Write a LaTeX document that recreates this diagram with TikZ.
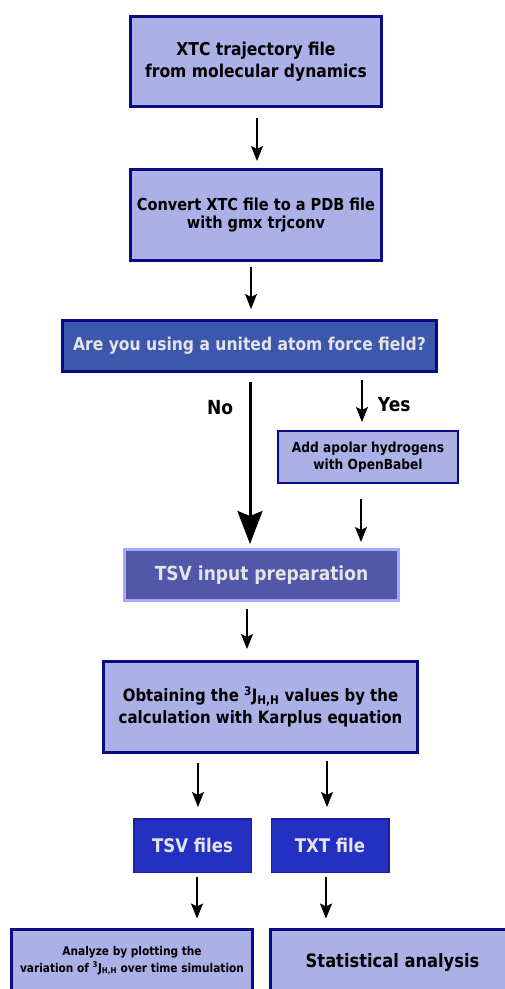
\documentclass[tikz,border=0pt]{standalone}
\usepackage{fontspec}
\setmainfont{DejaVu Sans}[FakeStretch=0.88]
\usetikzlibrary{arrows.meta}

\definecolor{boxfill}{HTML}{ABB0E6}
\definecolor{boxline}{HTML}{0A0A82}
\definecolor{askfill}{HTML}{3D57AD}
\definecolor{prepfill}{HTML}{5157A9}
\definecolor{prepline}{HTML}{A8A8F5}
\definecolor{filefill}{HTML}{2430C2}
\definecolor{fileline}{HTML}{1E1EA0}
\definecolor{lighttext}{HTML}{E4E4E8}

\tikzset{
  stepbox/.style={draw=boxline, fill=boxfill, line width=3pt, align=center, inner sep=0pt},
  arr/.style={-{Stealth[length=15pt, width=12pt, inset=3pt]}, line width=1.3pt},
  bigarr/.style={-{Stealth[length=33pt, width=25pt, inset=5pt]}, line width=3pt},
}

\begin{document}
\begin{tikzpicture}[x=1pt, y=-1pt]
    \clip (0,0) rectangle (505,989);
    \fill[white] (0,0) rectangle (505,989);

    % main column
    \node[stepbox, minimum width=251, minimum height=90,
          font=\bfseries\fontsize{17.7}{22}\selectfont] (xtc) at (256,61.5)
          {XTC trajectory file\\from molecular dynamics};
    \node[stepbox, minimum width=251, minimum height=91,
          font=\bfseries\fontsize{16.5}{18}\selectfont] (conv) at (256,215)
          {Convert XTC file to a PDB file\\with gmx trjconv};
    \node[stepbox, fill=askfill, text=lighttext, minimum width=374, minimum height=51,
          font=\bfseries\fontsize{17.7}{20}\selectfont] (ask) at (249.5,346)
          {Are you using a united atom force field?};
    \node[stepbox, line width=2pt, minimum width=180, minimum height=52,
          font=\bfseries\fontsize{13.9}{17}\selectfont] (addh) at (368,457)
          {Add apolar hydrogens\\with OpenBabel};
    \node[stepbox, draw=prepline, fill=prepfill, text=lighttext, minimum width=274, minimum height=51,
          font=\bfseries\fontsize{19.4}{22}\selectfont] (prep) at (261.5,575)
          {TSV input preparation};
    \node[stepbox, minimum width=314, minimum height=91,
          font=\bfseries\fontsize{17}{22}\selectfont] (karp) at (260.5,707)
          {Obtaining the \textsuperscript{3}J\textsubscript{H,H} values by the\\calculation with Karplus equation};

    % outputs
    \node[stepbox, draw=fileline, fill=filefill, text=lighttext, line width=1.5pt,
          minimum width=117.5, minimum height=53.5,
          font=\bfseries\fontsize{18.8}{22}\selectfont] (tsvf) at (192.5,845.5) {TSV files};
    \node[stepbox, draw=fileline, fill=filefill, text=lighttext, line width=1.5pt,
          minimum width=117.5, minimum height=53.5,
          font=\bfseries\fontsize{18.8}{22}\selectfont] (txtf) at (330,845.5) {TXT file};
    \node[stepbox, minimum width=241, minimum height=63,
          font=\bfseries\fontsize{12}{17}\selectfont] (plot) at (132,960.5)
          {Analyze by plotting the\\variation of \textsuperscript{3}J\textsubscript{H,H} over time simulation};
    \node[stepbox, minimum width=244, minimum height=67,
          font=\bfseries\fontsize{18.5}{22}\selectfont] (stat) at (392.5,962.5)
          {Statistical analysis};

    % connectors
    \draw[arr, shorten <=10pt, shorten >=7pt] ([xshift=1pt]xtc.south) -- ([xshift=1pt]conv.north);
    \draw[arr, shorten <=5pt, shorten >=10pt] ([xshift=-5pt]conv.south) -- ([xshift=-5pt]conv.south |- ask.north);
    \draw[bigarr, shorten <=9pt, shorten >=4pt] ([xshift=0.5pt]ask.south) -- ([xshift=0.5pt]ask.south |- prep.north)
        node[pos=0.2, left=12pt, font=\bfseries\fontsize{19.4}{22}\selectfont] (no) {No};
    \draw[arr, shorten <=7pt, shorten >=8pt] ([xshift=-6pt]addh.north |- ask.south) -- ([xshift=-6pt]addh.north)
        node[pos=0.56, right=12pt, font=\bfseries\fontsize{19.4}{22}\selectfont] (yes) {Yes};
    \draw[arr, shorten <=15pt, shorten >=6pt] ([xshift=-7pt]addh.south) -- ([xshift=-7pt]addh.south |- prep.north);
    \draw[arr, shorten <=7pt, shorten >=11pt] ([xshift=-14.5pt]prep.south) -- ([xshift=-14.5pt]prep.south |- karp.north);
    \draw[arr, shorten <=9pt, shorten >=11pt] ([xshift=5.5pt]tsvf.north |- karp.south) -- ([xshift=5.5pt]tsvf.north);
    \draw[arr, shorten <=7pt, shorten >=11pt] ([xshift=-3pt]txtf.north |- karp.south) -- ([xshift=-3pt]txtf.north);
    \draw[arr, shorten <=4pt, shorten >=9pt] ([xshift=4.5pt]tsvf.south) -- ([xshift=4.5pt]tsvf.south |- plot.north);
    \draw[arr, shorten <=4pt, shorten >=9pt] ([xshift=-4pt]txtf.south) -- ([xshift=-4pt]txtf.south |- stat.north);
\end{tikzpicture}
\end{document}
